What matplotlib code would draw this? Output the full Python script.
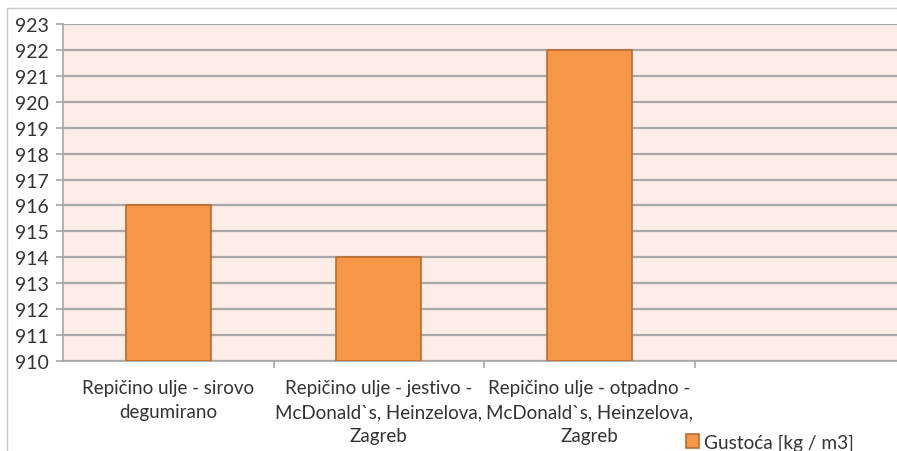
import matplotlib.pyplot as plt
from matplotlib.patches import Rectangle

categories = [
    'Repičino ulje - sirovo\ndegumirano',
    'Repičino ulje - jestivo -\nMcDonald`s, Heinzelova,\nZagreb',
    'Repičino ulje - otpadno -\nMcDonald`s, Heinzelova,\nZagreb',
]
density = [916, 914, 922]
series_name = 'Gustoća [kg / m3]'
y_ticks = list(range(910, 924))

plt.rcParams['font.family'] = ['Lato', 'DejaVu Sans']
text_color = '#333333'

fig = plt.figure(figsize=(8.97, 4.52), dpi=100)
# outer chart frame, partly outside the canvas
fig.patches.append(Rectangle((7 / 897, -0.1), 1.1, 1 - 9 / 452 + 0.1,
                             transform=fig.transFigure, fill=False,
                             edgecolor='#c8c8c8', linewidth=1))

ax = fig.add_axes([63 / 897, 1 - 362 / 452, 842 / 897, 337 / 452])
ax.set_facecolor('#fcede8')
ax.bar(range(len(density)), [v - 910 for v in density], bottom=910,
       width=0.405, color='#f79646', edgecolor='#b66d31', linewidth=1.2,
       zorder=3, label=series_name)

ax.set_ylim(910, 923)
ax.set_xlim(-0.5, 3.5)
ax.set_yticks(y_ticks)
ax.yaxis.grid(True, color='#a8a8a8', linewidth=1.6, zorder=1)
ax.set_axisbelow(True)

ax.set_xticks(range(len(categories)))
ax.set_xticklabels(categories, fontsize=13.5, color=text_color, linespacing=1.5)
ax.set_xticks([0.5, 1.5, 2.5], minor=True)
ax.tick_params(axis='x', which='major', length=0, pad=13)
ax.tick_params(axis='x', which='minor', length=5, color='#a8a8a8', width=1.2)
ax.tick_params(axis='y', length=5, color='#a8a8a8', width=1.2, labelsize=14,
               labelcolor=text_color, pad=5)

for side in ['top', 'right']:
    ax.spines[side].set_visible(False)
for side in ['left', 'bottom']:
    ax.spines[side].set_color('#a8a8a8')
    ax.spines[side].set_linewidth(1.2)

ax.legend(loc='lower left', bbox_to_anchor=(669 / 897, -17 / 452),
          bbox_transform=fig.transFigure, frameon=False, fontsize=13.7,
          handlelength=0.7, handleheight=0.7, handletextpad=0.25,
          labelcolor=text_color)

fig.savefig('out.png', dpi=100)
